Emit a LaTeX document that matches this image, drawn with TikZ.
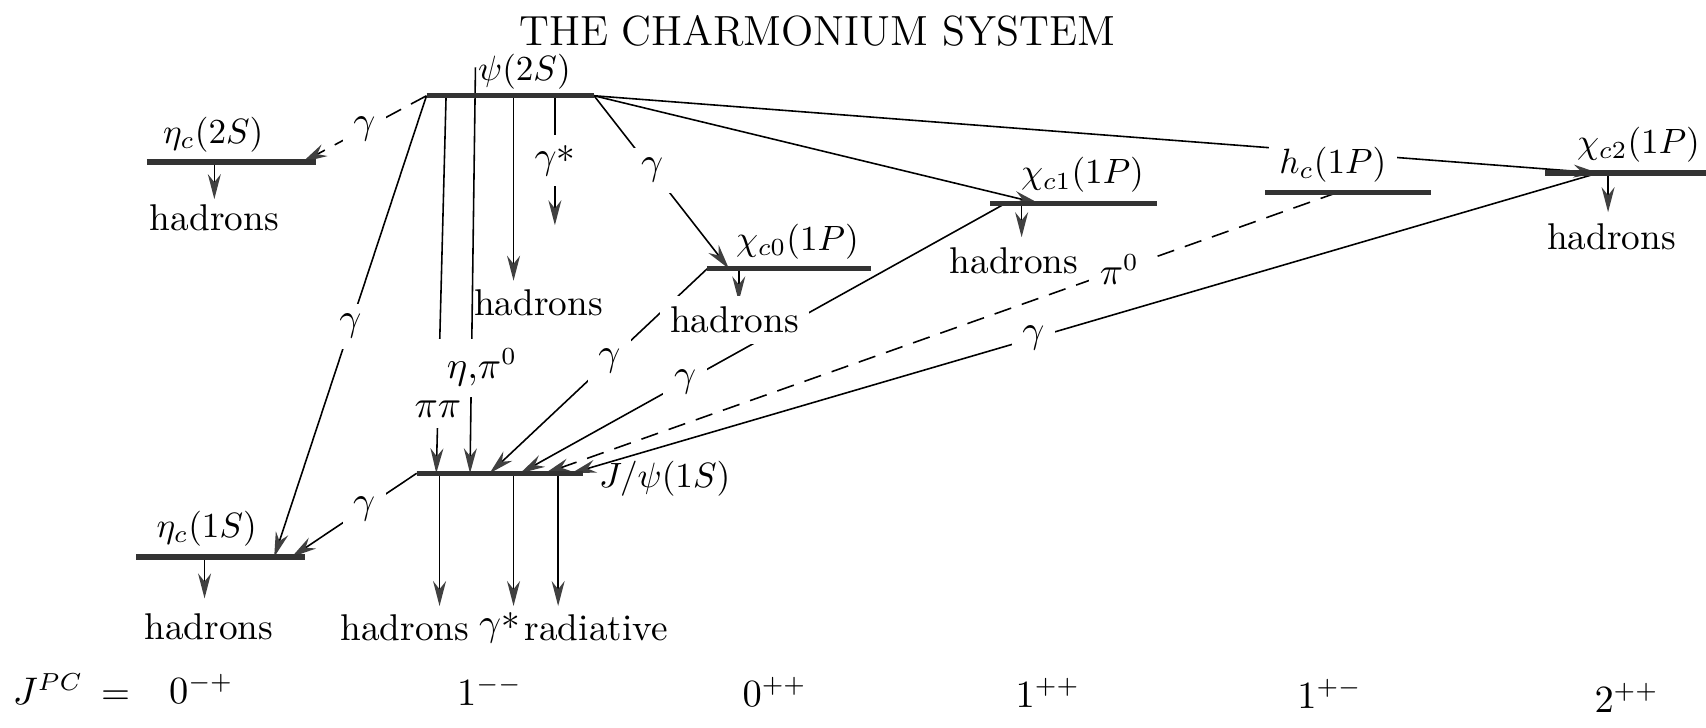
\documentclass[tikz,border=0pt]{standalone}
\usepackage{amsmath}
\usetikzlibrary{arrows.meta, calc}
\tikzset{
  lvl/.style={line width=1.5pt, draw=black!80},
  trans/.style={line width=0.45pt, -{Stealth[length=2.5mm, width=1.3mm, color=black!75]}},
  transdash/.style={trans, dash pattern=on 5pt off 3.2pt},
  lab/.style={font=\fontsize{10.6}{12}\selectfont, inner sep=1pt},
  nm/.style={font=\fontsize{10}{12}\selectfont, inner sep=1pt},
  onl/.style={lab, fill=white, inner sep=3pt}
}
\newcommand{\gst}{$\gamma$\raisebox{-0.3ex}{*}}

\begin{document}
\begin{tikzpicture}[x=0.01088cm, y=-0.01088cm]
            \useasboundingbox (0,0) rectangle (1568,669);
            \node (title) [font=\fontsize{12}{14}\selectfont] at (751,28) {THE CHARMONIUM SYSTEM};

            % Niveles (extremo izquierdo / derecho)
            \coordinate (psiL) at (392,88);   \coordinate (psiR) at (546,88);
            \coordinate (eta2L) at (135,149); \coordinate (eta2R) at (290,149);
            \coordinate (eta1L) at (125,512); \coordinate (eta1R) at (280,512);
            \coordinate (jpsiL) at (383,435); \coordinate (jpsiR) at (536,435);
            \coordinate (chi0L) at (650,247); \coordinate (chi0R) at (801,247);
            \coordinate (chi1L) at (910,187); \coordinate (chi1R) at (1063,187);
            \coordinate (hcL) at (1163,177);  \coordinate (hcR) at (1315,177);
            \coordinate (chi2L) at (1420,159); \coordinate (chi2R) at (1568,159);

            % Puntos de salida y llegada
            \coordinate (psiPP) at (410,88);   \coordinate (psiEta) at (437,62);
            \coordinate (psiHad) at (472,88);  \coordinate (psiHadEnd) at (472,258);
            \coordinate (psiGs) at (510,88);   \coordinate (psiGsEnd) at (510,207);
            \coordinate (eta2in) at (278,149);
            \coordinate (eta1inA) at (252,512); \coordinate (eta1inB) at (268,512);
            \coordinate (jpsiPP) at (401,435);  \coordinate (jpsiEta) at (432,435);
            \coordinate (jpsiC0) at (450,435);  \coordinate (jpsiC1) at (478,435);
            \coordinate (jpsiPi) at (501,435);  \coordinate (jpsiC2) at (525,435);
            \coordinate (chi0in) at (670,247);  \coordinate (chi1in) at (955,187);
            \coordinate (chi2in) at (1469,159);
            \coordinate (chi1out) at (924,187); \coordinate (hcout) at (1229,177);
            \coordinate (chi2out) at (1469,159);

            % Transiciones desde psi(2S)
            \draw [transdash] (psiL) -- node[onl] {$\gamma$} (eta2in);
            \draw [trans] (psiL) -- node[onl, pos=0.5] {$\gamma$} (eta1inA);
            \draw [trans] (psiPP) -- node[onl, pos=0.83] {$\pi\pi$} (jpsiPP);
            \draw [trans] (psiEta) -- node[onl, pos=0.74, xshift=3pt] {$\eta,\!\pi^0$} (jpsiEta);
            \draw [trans] (psiHad) -- (psiHadEnd);
            \draw [trans] (psiGs) -- node[onl, pos=0.5] {\gst} (psiGsEnd);
            \draw [trans] (psiR) -- node[onl, pos=0.43] {$\gamma$} (chi0in);
            \draw [trans] (psiR) -- (chi1in);
            \draw [trans] (psiR) -- (chi2in);

            % Transiciones hacia J/psi y eta_c(1S)
            \draw [trans] (chi0L) -- node[onl, pos=0.45] {$\gamma$} (jpsiC0);
            \draw [trans] (chi1out) -- node[onl, pos=0.66] {$\gamma$} (jpsiC1);
            \draw [transdash] (hcout) -- node[onl, pos=0.275] {$\pi^0$} (jpsiPi);
            \draw [trans] (chi2out) -- node[onl, pos=0.55] {$\gamma$} (jpsiC2);
            \draw [trans] (jpsiL) -- node[onl, pos=0.42] {$\gamma$} (eta1inB);

            % Decaimientos a hadrones
            \coordinate (eta2dec) at (197,149);  \coordinate (eta2end) at (197,183);
            \coordinate (eta1dec) at (188,512);  \coordinate (eta1end) at (188,550);
            \coordinate (chi0dec) at (679,247);  \coordinate (chi0end) at (679,277);
            \coordinate (chi1dec) at (939,187);  \coordinate (chi1end) at (939,218);
            \coordinate (chi2dec) at (1478,159); \coordinate (chi2end) at (1478,195);
            \coordinate (jpsiHad) at (404,435);  \coordinate (jpsiHadEnd) at (404,557);
            \coordinate (jpsiGs) at (472,435);   \coordinate (jpsiGsEnd) at (472,557);
            \coordinate (jpsiRad) at (513,435);  \coordinate (jpsiRadEnd) at (513,557);
            \foreach \a/\b in {eta2dec/eta2end, eta1dec/eta1end, chi0dec/chi0end, chi1dec/chi1end,
                               chi2dec/chi2end, jpsiHad/jpsiHadEnd, jpsiGs/jpsiGsEnd, jpsiRad/jpsiRadEnd}
              \draw [trans] (\a) -- (\b);

            % Nombres de los estados
            \node (psiname) [nm] at (482,66) {$\psi(2S)$};
            \node (eta2name) [nm] at (196,124) {$\eta_c(2S)$};
            \node (eta1name) [nm] at (190,486) {$\eta_c(1S)$};
            \node (jpsiname) [nm] at (611,440) {$J/\psi(1S)$};
            \node (chi0name) [nm] at (733,222) {$\chi_{c0}(1P)$};
            \node (chi1name) [nm] at (995,161) {$\chi_{c1}(1P)$};
            \node (hcname) [nm, fill=white, inner sep=3pt] at (1225,151) {$h_c(1P)$};
            \node (chi2name) [nm] at (1506,133) {$\chi_{c2}(1P)$};

            % Etiquetas de productos
            \node (hadeta2) [lab] at (197,200) {hadrons};
            \node (hadpsi) [lab] at (495,278) {hadrons};
            \node (hadchi0) [onl] at (675,294) {hadrons};
            \node (hadchi1) [lab] at (932,240) {hadrons};
            \node (hadchi2) [lab] at (1481,218) {hadrons};
            \node (hadeta1) [lab] at (192,576) {hadrons};
            \node (hadjpsi) [lab] at (372,577) {hadrons};
            \node (gsjpsi) [lab] at (459,577) {\gst};
            \node (radjpsi) [lab] at (548,577) {radiative};

            % Niveles encima de todo
            \foreach \s in {psi,eta2,eta1,jpsi,chi0,chi1,hc,chi2}
              \draw [lvl] (\s L) -- (\s R);

            % Numeros cuanticos
            \node (jpc) [lab] at (66,633) {$J^{PC}$\ \,=};
            \node (jpc1) [lab] at (185,633) {$0^{-+}$};
            \node (jpc2) [lab] at (450,635) {$1^{--}$};
            \node (jpc3) [lab] at (712,636) {$0^{++}$};
            \node (jpc4) [lab] at (963,637) {$1^{++}$};
            \node (jpc5) [lab] at (1222,638) {$1^{+-}$};
            \node (jpc6) [lab] at (1495,641) {$2^{++}$};
        \end{tikzpicture}
\end{document}
